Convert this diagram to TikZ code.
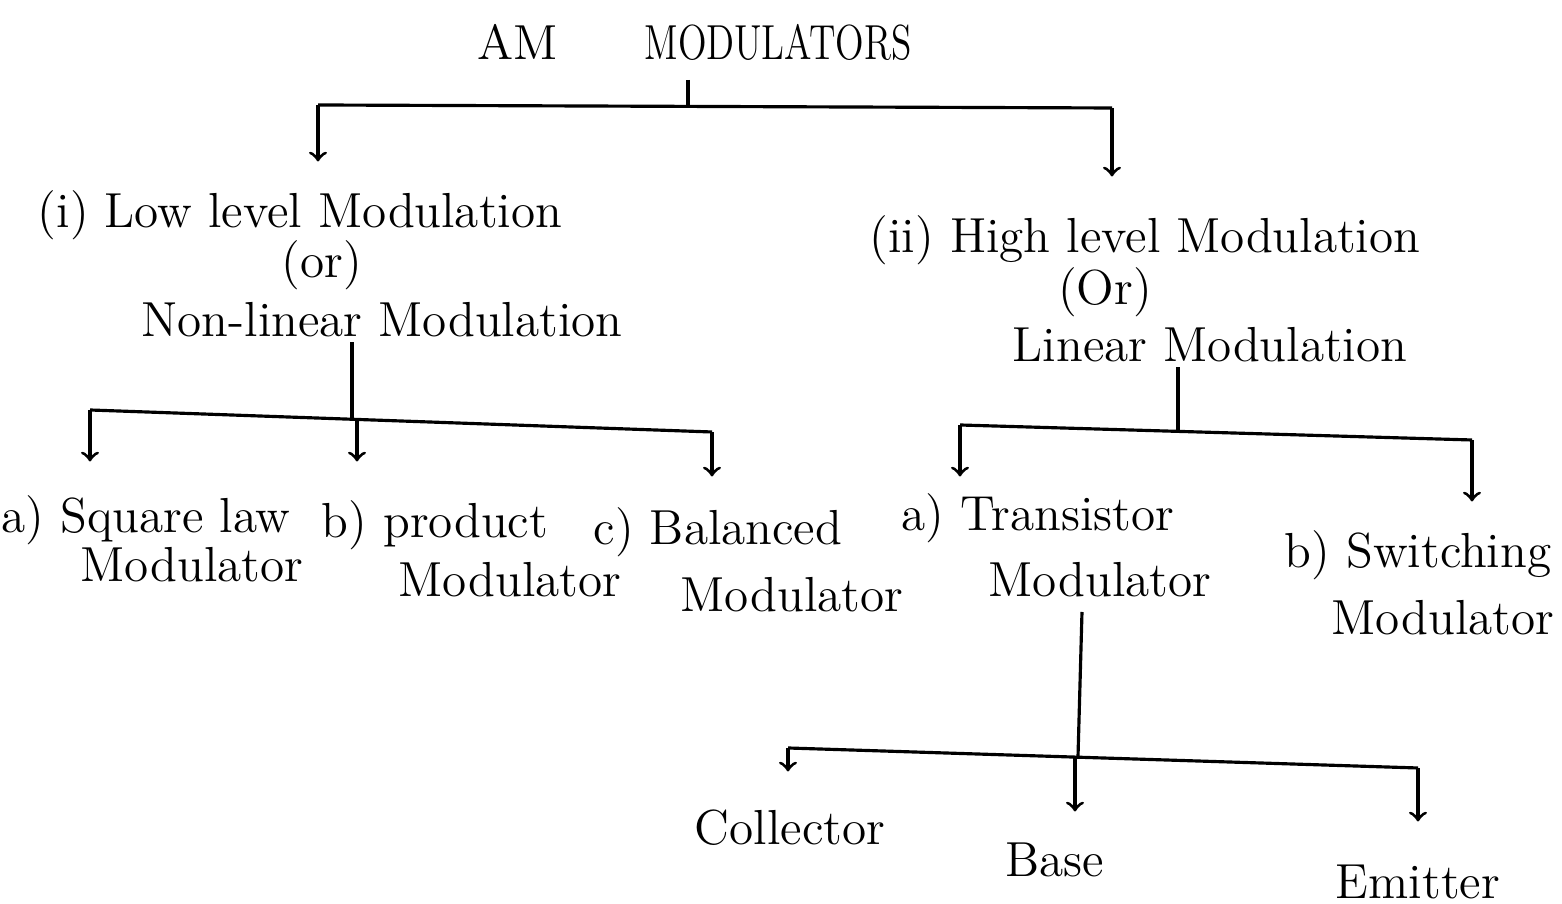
\documentclass[tikz,border=0pt]{standalone}
\usepackage{tikz}
\usepackage{amsmath}

\begin{document}
\begin{tikzpicture}[->,x=0.01cm,y=-0.01cm,line width=0.9pt,
	text node/.style={font=\fontsize{14}{17}\selectfont,inner sep=1pt}]
	\useasboundingbox (0,0) rectangle (1562,904);
	
	% top level
	\node[text node] (AM) at (518,42) {AM};
	\node[text node,xscale=0.76,transform shape] (mods) at (778,42) {MODULATORS};
	\node[text node] (low) at (300,215) {(i) Low level Modulation};
	\node[text node] (or1) at (322,265) {(or)};
	\node[text node] (nonlin) at (382,320) {Non-linear Modulation};
	\node[text node] (high) at (1145,240) {(ii) High level Modulation};
	\node[text node] (or2) at (1105,292) {(Or)};
	\node[text node] (linear) at (1210,345) {Linear Modulation};
	
	% low level branch
	\node[text node] (sq) at (146,520) {a) Square law};
	\node[text node] (sqm) at (192,565) {Modulator};
	\node[text node] (prod) at (435,525) {b) product};
	\node[text node] (prodm) at (510,580) {Modulator};
	\node[text node] (bal) at (718,532) {c) Balanced};
	\node[text node] (balm) at (792,595) {Modulator};
	
	% high level branch
	\node[text node] (trans) at (1038,518) {a) Transistor};
	\node[text node] (transm) at (1100,580) {Modulator};
	\node[text node] (sw) at (1418,555) {b) Switching};
	\node[text node] (swm) at (1443,618) {Modulator};
	
	% transistor modulator
	\node[text node] (col) at (790,828) {Collector};
	\node[text node] (base) at (1055,860) {Base};
	\node[text node] (emit) at (1418,882) {Emitter};
	
	\coordinate (t1) at (688,80);
	\coordinate (t0) at (688,107);
	\coordinate (b1l) at (318,105);
	\coordinate (b1r) at (1112,108);
	\coordinate (j2) at (352,419);
	\coordinate (b2l) at (90,410);
	\coordinate (b2m) at (357,421);
	\coordinate (b2r) at (712,432);
	\coordinate (j3) at (1178,431);
	\coordinate (b3l) at (960,425);
	\coordinate (b3r) at (1472,440);
	\coordinate (j4) at (1078,757);
	\coordinate (b4l) at (788,748);
	\coordinate (b4m) at (1075,757);
	\coordinate (b4r) at (1418,768);
	
	\draw[-] (t1) -- (t0);
	\draw[-] (b1l) -- (b1r);
	\draw[-] (j2 |- nonlin.south) -- (j2);
	\draw[-] (b2l) -- (b2r);
	\draw[-] (j3 |- linear.south) -- (j3);
	\draw[-] (b3l) -- (b3r);
	\draw[-] (1082,612) -- (j4);
	\draw[-] (b4l) -- (b4r);
	
	\path[shorten >=1pt]
	(b1l) edge (318,165)
	(b1r) edge (1112,180)
	(b2l) edge (90,465)
	(b2m) edge (357,465)
	(b2r) edge (712,480)
	(b3l) edge (960,480)
	(b3r) edge (1472,505)
	(b4l) edge (788,775)
	(b4m) edge (1075,815)
	(b4r) edge (1418,825)
	;
\end{tikzpicture}
\end{document}
